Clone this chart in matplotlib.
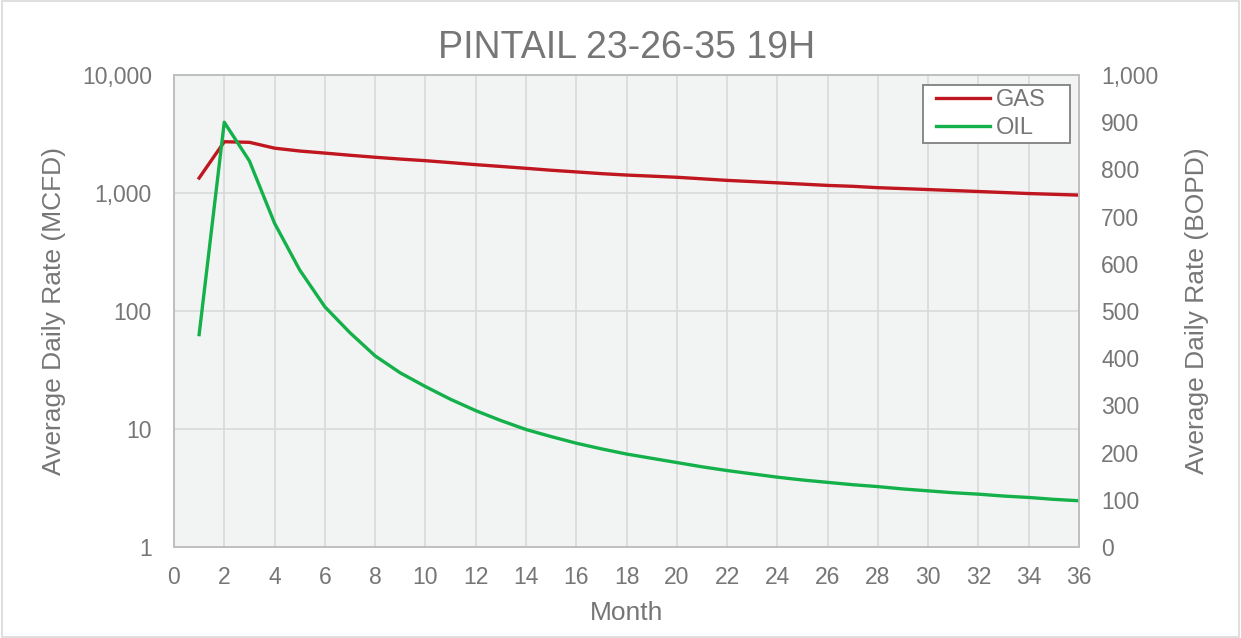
import numpy as np
import matplotlib.pyplot as plt
from matplotlib.ticker import FuncFormatter, FixedLocator, NullLocator
from matplotlib.patches import Rectangle

plt.rcParams['font.family'] = ['Liberation Sans', 'DejaVu Sans']

months = list(range(1, 37))
gas = [1340, 2720, 2690, 2400, 2270, 2180, 2090, 2010, 1940, 1880, 1810, 1740,
       1680, 1620, 1560, 1510, 1460, 1420, 1390, 1360, 1320, 1280, 1250, 1220,
       1190, 1160, 1140, 1110, 1090, 1070, 1050, 1030, 1010, 990, 975, 960]
oil = [450, 900, 818, 686, 587, 509, 454, 405, 369, 340, 313, 289,
       268, 249, 234, 220, 208, 197, 188, 179, 170, 162, 155, 148,
       142, 137, 132, 128, 123, 119, 115, 112, 108, 105, 101, 98]

title = "PINTAIL 23-26-35 19H"
txt = "#767676"
grid_c = "#D9D9D9"

fig = plt.figure(figsize=(12.41, 6.38), dpi=100)
fig.patches.append(Rectangle((0.002, 0.002), 0.996, 0.996, transform=fig.transFigure,
                             fill=False, edgecolor="#D9D9D9", linewidth=1.2))
ax = fig.add_axes([0.1402, 0.1426, 0.7293, 0.7398])
ax.set_facecolor("#F2F4F3")
ax2 = ax.twinx()

l1, = ax.plot(months, gas, color="#C0161F", linewidth=2.4, label="GAS")
l2, = ax2.plot(months, oil, color="#14B04A", linewidth=2.4, label="OIL")

ax.set_yscale("log")
ax.set_ylim(1, 10000)
ax.set_xlim(0, 36)
ax.yaxis.set_major_locator(FixedLocator([1, 10, 100, 1000, 10000]))
ax.yaxis.set_minor_locator(NullLocator())
ax.yaxis.set_major_formatter(FuncFormatter(lambda v, p: f"{int(v):,}"))
ax.set_xticks(range(0, 37, 2))
ax2.set_ylim(0, 1000)
ax2.set_yticks(range(0, 1001, 100))
ax2.yaxis.set_major_formatter(FuncFormatter(lambda v, p: f"{int(v):,}"))

ax.grid(True, color=grid_c, linewidth=1.2)
ax.set_axisbelow(True)
for a in (ax, ax2):
    a.tick_params(length=0, labelsize=16.5, colors=txt, pad=16)
    for s in a.spines.values():
        s.set_color("#BFBFBF")
        s.set_linewidth(1.2)
ax.tick_params(axis="x", pad=14)

ax.set_xlabel("Month", fontsize=19, color=txt, labelpad=8)
ax.set_ylabel("Average Daily Rate (MCFD)", fontsize=19, color=txt, labelpad=11)
ax2.set_ylabel("Average Daily Rate (BOPD)", fontsize=19, color=txt, labelpad=19)
ax.set_title(title, fontsize=27, color=txt, pad=12)

# legend frame drawn separately (Excel style padding)
ax.add_patch(Rectangle((0.8276, 0.8559), 0.1624, 0.1229, transform=ax.transAxes,
                       facecolor="white", edgecolor="#808080", linewidth=1.3, zorder=5))
leg = ax.legend(handles=[l1, l2], loc="center right", fontsize=17, frameon=False,
                handlelength=2.3, borderpad=0, labelspacing=0.25, handletextpad=0.25,
                bbox_to_anchor=(0.976, 0.917))
leg.set_zorder(6)
for t in leg.get_texts():
    t.set_color(txt)

fig.savefig("out.png", dpi=100)
